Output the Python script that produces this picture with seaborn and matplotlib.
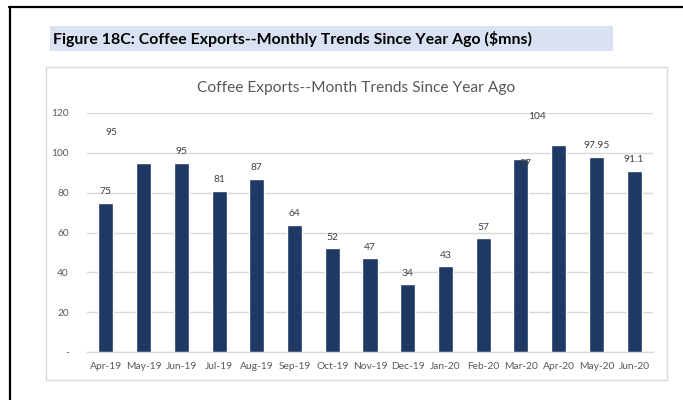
import matplotlib
matplotlib.use("Agg")
import matplotlib.pyplot as plt
from matplotlib.patches import Rectangle
from matplotlib.lines import Line2D
import seaborn as sns
import pandas as pd

# Monthly coffee export values ($ millions)
months = ["Apr-19", "May-19", "Jun-19", "Jul-19", "Aug-19", "Sep-19", "Oct-19",
          "Nov-19", "Dec-19", "Jan-20", "Feb-20", "Mar-20", "Apr-20", "May-20", "Jun-20"]
exports = [75, 95, 95, 81, 87, 64, 52, 47, 34, 43, 57, 97, 104, 97.95, 91.1]
value_labels = ["75", "95", "95", "81", "87", "64", "52", "47", "34", "43", "57",
                "97", "104", "97.95", "91.1"]
y_ticks = [0, 20, 40, 60, 80, 100, 120]
y_tick_labels = ["-", "20", "40", "60", "80", "100", "120"]

banner_title = "Figure 18C: Coffee Exports--Monthly Trends Since Year Ago ($mns)"
chart_title = "Coffee Exports--Month Trends Since Year Ago"

# extra label shifts (pixels) for a few hand-placed data labels
label_shift = {1: (-32, 19), 11: (5, -16), 12: (-22, 17)}

BAR = "#1f3864"
GRID = "#d9d9d9"
TXT = "#595959"

sns.set_style("white")
plt.rcParams["font.family"] = ["Lato", "DejaVu Sans"]

W, H = 683, 400
fig = plt.figure(figsize=(W / 100, H / 100), dpi=100)


def px_rect(x0, y0, x1, y1):
    return (x0 / W, 1 - y1 / H, (x1 - x0) / W, (y1 - y0) / H)


# outer black frame (top and left edges)
fig.add_artist(Line2D([9 / W, 1.0], [1 - 7 / H, 1 - 7 / H], color="black", lw=1.6,
                      transform=fig.transFigure))
fig.add_artist(Line2D([10 / W, 10 / W], [1 - 7 / H, 0], color="black", lw=1.6,
                      transform=fig.transFigure))

# banner heading
bx, by, bw, bh = px_rect(50, 26, 613, 51)
fig.add_artist(Rectangle((bx, by), bw, bh, transform=fig.transFigure,
                         facecolor="#dae1f3", edgecolor="none"))
fig.text(53 / W, 1 - 39 / H, banner_title, ha="left", va="center",
         fontsize=11.4, fontweight="bold", color="black")

# chart frame
cx, cy, cw, ch = px_rect(46, 67, 667, 380)
fig.add_artist(Rectangle((cx, cy), cw, ch, transform=fig.transFigure,
                         facecolor="none", edgecolor=GRID, lw=1.0))
fig.text(356 / W, 1 - 88 / H, chart_title, ha="center", va="center",
         fontsize=11.2, color=TXT)

ax = fig.add_axes(px_rect(87, 113, 653, 352))
df = pd.DataFrame({"month": months, "value": exports})
sns.barplot(data=df, x="month", y="value", color=BAR, width=0.4,
            saturation=1, ax=ax, zorder=3)

ax.set_ylim(0, 120)
ax.set_xlim(-0.5, len(months) - 0.5)
ax.set_yticks(y_ticks)
ax.set_yticklabels(y_tick_labels)
ax.set_xlabel("")
ax.set_ylabel("")
ax.yaxis.grid(True, color=GRID, lw=1.0, zorder=0)
ax.set_axisbelow(True)
for s in ["top", "right", "left"]:
    ax.spines[s].set_visible(False)
ax.spines["bottom"].set_color(GRID)
ax.spines["bottom"].set_linewidth(1.0)

ax.tick_params(axis="y", length=0, labelsize=7.3, labelcolor=TXT, pad=13)
ax.tick_params(axis="x", which="major", length=0, labelsize=7.4, labelcolor=TXT, pad=7)
ax.set_xticks([i - 0.5 for i in range(len(months) + 1)], minor=True)
ax.tick_params(axis="x", which="minor", length=4, color=GRID, width=1.0)

for i, (v, lab) in enumerate(zip(exports, value_labels)):
    dx, dy = label_shift.get(i, (0, 0))
    ax.annotate(lab, xy=(i, v), xytext=(dx, 11 + dy), textcoords="offset pixels",
                ha="center", va="center", fontsize=7.4, color="#404040",
                annotation_clip=False, zorder=4)

fig.savefig("out.png", dpi=100)
